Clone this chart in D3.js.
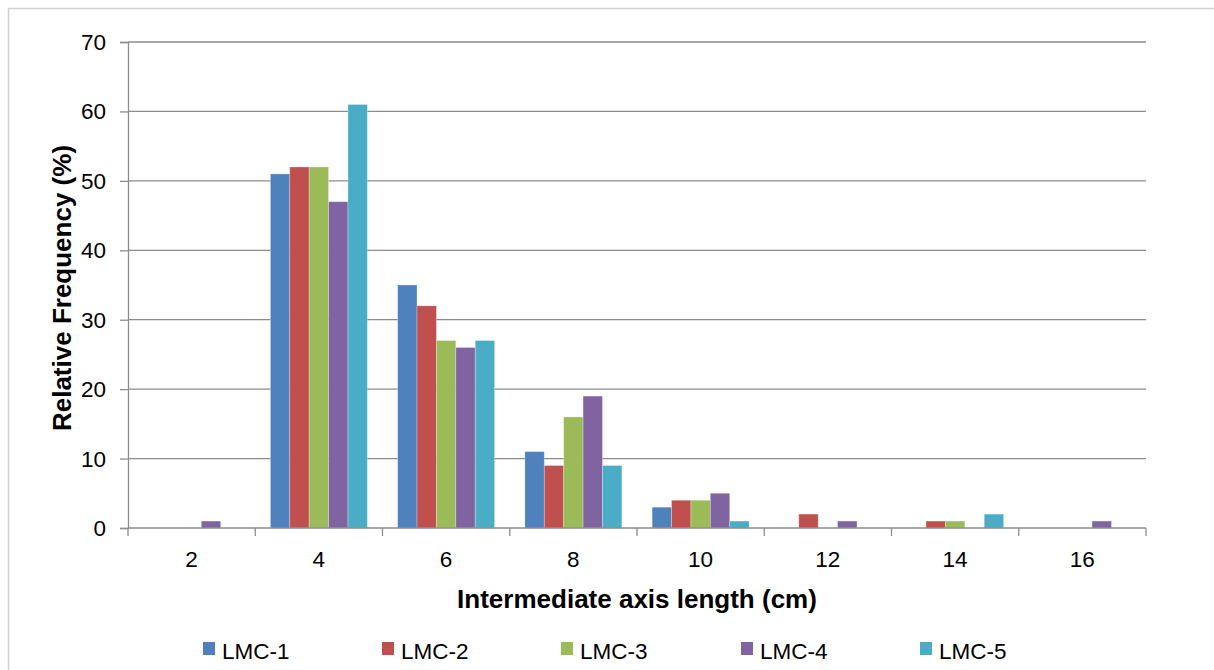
<!DOCTYPE html>
<html><head><meta charset="utf-8">
<script src="https://cdn.jsdelivr.net/npm/d3@7"></script>
<style>body{margin:0;background:#fff;} svg{display:block;font-family:"Liberation Sans",Arial,sans-serif;}</style>
</head><body>
<script>
const categories = ["2","4","6","8","10","12","14","16"];
const seriesNames = ["LMC-1","LMC-2","LMC-3","LMC-4","LMC-5"];
const lmc1 = [0,51,35,11,3,0,0,0];
const lmc2 = [0,52,32,9,4,2,1,0];
const lmc3 = [0,52,27,16,4,0,1,0];
const lmc4 = [1,47,26,19,5,1,0,1];
const lmc5 = [0,61,27,9,1,0,2,0];
const yTicks = [0,10,20,30,40,50,60,70];
const colors = ["#4F81BD","#C0504D","#9BBB59","#8064A2","#4BACC6"];
const series = [lmc1,lmc2,lmc3,lmc4,lmc5];

const W=1214,H=670;
const FONT="Liberation Sans, Arial, sans-serif";
const svg=d3.select("body").append("svg").attr("width",W).attr("height",H);
svg.append("rect").attr("x",8.5).attr("y",8.5).attr("width",W+10).attr("height",H+10)
  .attr("fill","none").attr("stroke","#D0D0D0").attr("stroke-width",1.5);

const L=128,R=1146,T=42,B=528;
const x=d3.scaleBand().domain(categories).range([L,R]).paddingInner(0).paddingOuter(0);
const y=d3.scaleLinear().domain([0,70]).range([B,T]);
const inner=d3.scaleBand().domain(seriesNames).range([0,x.bandwidth()]).paddingOuter(0.78).paddingInner(0);

// gridlines
svg.append("g").selectAll("line").data(yTicks.filter(d=>d>0)).join("line")
  .attr("x1",L).attr("x2",R).attr("y1",d=>y(d)).attr("y2",d=>y(d))
  .attr("stroke","#8C8C8C").attr("stroke-width",1.3);

// bars
series.forEach((vals,si)=>{
  svg.append("g").selectAll("rect").data(vals).join("rect")
    .attr("x",(d,i)=>x(categories[i])+inner(seriesNames[si]))
    .attr("width",inner.bandwidth())
    .attr("y",d=>y(d)).attr("height",d=>B-y(d))
    .attr("fill",colors[si])
    .attr("stroke","rgba(255,255,255,0.35)").attr("stroke-width",0.8);
});

// y axis
const yAxis=d3.axisLeft(y).tickValues(yTicks).tickSize(8).tickPadding(14);
const gy=svg.append("g").attr("transform",`translate(${L},0)`).call(yAxis);
gy.attr("font-size",22.5).attr("font-family",FONT);
gy.select(".domain").attr("stroke","#8C8C8C").attr("stroke-width",1.3);
gy.selectAll(".tick line").attr("stroke","#8C8C8C").attr("stroke-width",1.3);
gy.selectAll(".tick text").attr("fill","#000").attr("dy",null).attr("dominant-baseline","central");

// x axis
const gx=svg.append("g").attr("transform",`translate(0,${B})`);
gx.append("line").attr("x1",L).attr("x2",R).attr("y1",0).attr("y2",0).attr("stroke","#8C8C8C").attr("stroke-width",1.3);
const bounds=categories.map(c=>x(c)).concat([R]);
gx.selectAll("line.tk").data(bounds).join("line").attr("class","tk")
  .attr("x1",d=>d).attr("x2",d=>d).attr("y1",0).attr("y2",8).attr("stroke","#8C8C8C").attr("stroke-width",1.3);
gx.selectAll("text").data(categories).join("text")
  .attr("x",d=>x(d)+x.bandwidth()/2).attr("y",39).attr("text-anchor","middle")
  .attr("font-size",22.5).attr("fill","#000").text(d=>d);

// axis titles
svg.append("text").attr("x",(L+R)/2).attr("y",608).attr("text-anchor","middle")
  .attr("font-size",26).attr("font-weight","bold").text("Intermediate axis length (cm)");
svg.append("text").attr("transform",`translate(71,288) rotate(-90)`).attr("text-anchor","middle")
  .attr("font-size",26).attr("font-weight","bold").text("Relative Frequency (%)");

// legend
const legX=[203,382,561,741,920];
const lg=svg.append("g").selectAll("g").data(seriesNames).join("g")
  .attr("transform",(d,i)=>`translate(${legX[i]},0)`);
lg.append("rect").attr("x",0).attr("y",642).attr("width",12).attr("height",13).attr("fill",(d,i)=>colors[i]);
lg.append("text").attr("x",19).attr("y",659).attr("font-size",22.5).text(d=>d);
</script>
</body></html>
